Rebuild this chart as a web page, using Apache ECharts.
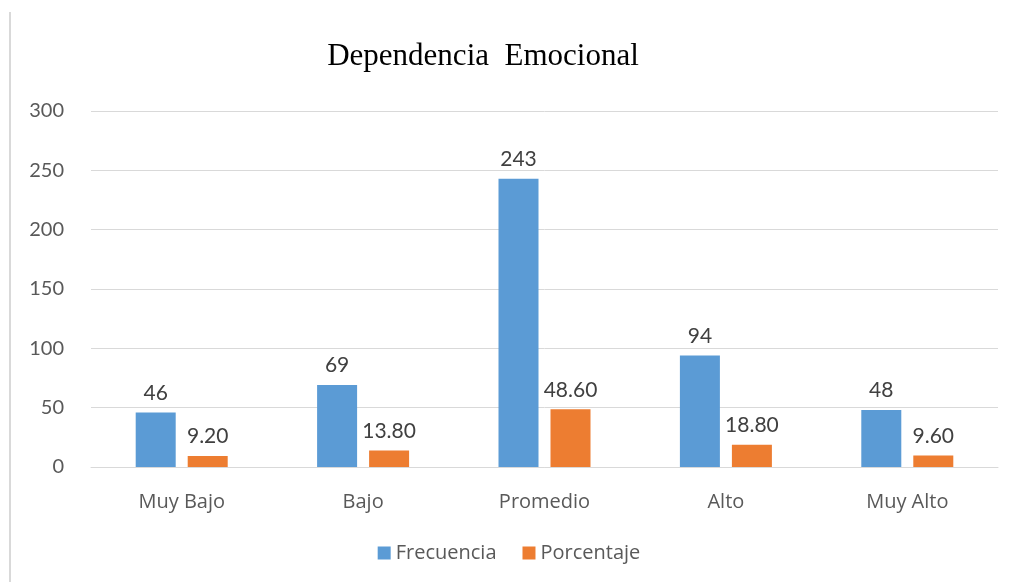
<!DOCTYPE html>
<html>
<head>
<meta charset="utf-8">
<script src="https://cdn.jsdelivr.net/npm/echarts@6/dist/echarts.min.js"></script>
<style>
  html, body { margin: 0; padding: 0; background: #fff; }
  #main { width: 1018px; height: 582px; }
  .edge { position: absolute; left: 9px; top: 12px; width: 2px; height: 570px; background: #d9d9d9; }
</style>
</head>
<body>
<div class="edge"></div>
<div id="main"></div>
<script>
var categories = ['Muy Bajo', 'Bajo', 'Promedio', 'Alto', 'Muy Alto'];
var frecuencia = [46, 69, 243, 94, 48];
var porcentaje = [9.2, 13.8, 48.6, 18.8, 9.6];
var seriesNames = ['Frecuencia', 'Porcentaje'];

var chart = echarts.init(document.getElementById('main'));
var option = {
  animation: false,
  title: {
    text: 'Dependencia  Emocional',
    left: 478,
    textAlign: 'center',
    top: 36,
    textStyle: { fontFamily: 'Liberation Serif', fontSize: 31, fontWeight: 'normal', color: '#000' }
  },
  legend: {
    data: seriesNames,
    bottom: 14,
    left: 'center',
    itemWidth: 13,
    itemHeight: 13,
    itemGap: 26,
    icon: 'rect',
    textStyle: { fontFamily: 'Open Sans', fontSize: 20, color: '#595959' }
  },
  grid: { left: 91, right: 20, top: 111, bottom: 115 },
  xAxis: {
    type: 'category',
    data: categories,
    axisLine: { lineStyle: { color: '#d9d9d9', width: 1 } },
    axisTick: { show: false },
    axisLabel: { fontFamily: 'Open Sans', fontSize: 20, color: '#595959', margin: 25 }
  },
  yAxis: {
    type: 'value',
    min: 0,
    max: 300,
    interval: 50,
    axisLine: { show: false },
    axisTick: { show: false },
    splitLine: { lineStyle: { color: '#d9d9d9', width: 1 } },
    axisLabel: { fontFamily: 'Lato', fontSize: 20, color: '#595959', margin: 27 }
  },
  series: [
    {
      name: seriesNames[0],
      type: 'bar',
      data: frecuencia,
      barWidth: 40,
      barGap: '30%',
      itemStyle: { color: '#5b9bd5' },
      label: { show: true, position: 'top', distance: 9, fontFamily: 'Lato', fontSize: 21, color: '#404040' }
    },
    {
      name: seriesNames[1],
      type: 'bar',
      data: porcentaje,
      barWidth: 40,
      itemStyle: { color: '#ed7d31' },
      label: {
        show: true, position: 'top', distance: 9, fontFamily: 'Lato', fontSize: 21, color: '#404040',
        formatter: function (p) { return p.value.toFixed(2); }
      }
    }
  ]
};
chart.setOption(option);
</script>
</body>
</html>
